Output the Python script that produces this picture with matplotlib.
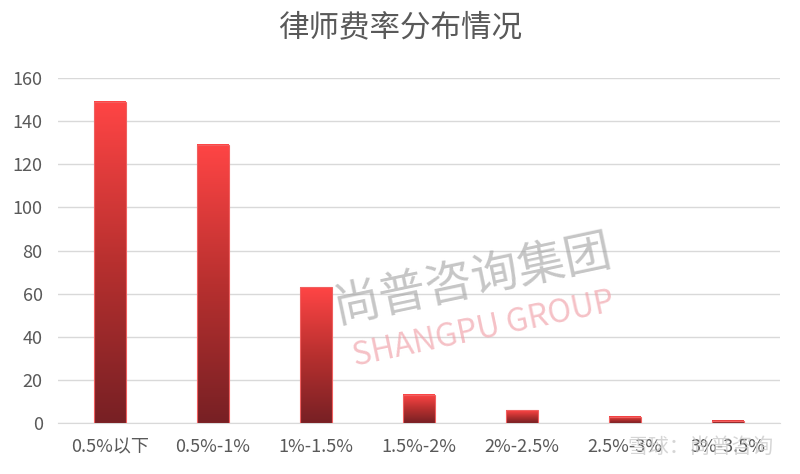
import numpy as np
import matplotlib.pyplot as plt
from matplotlib.colors import LinearSegmentedColormap

plt.rcParams['font.family'] = ['Noto Sans CJK SC', 'DejaVu Sans']

categories = ["0.5%以下", "0.5%-1%", "1%-1.5%", "1.5%-2%", "2%-2.5%", "2.5%-3%", "3%-3.5%"]
counts = [149, 129, 63, 13, 6, 3, 1]

# bar gradient: dark red at bottom, bright red on top
grad = LinearSegmentedColormap.from_list("bar", ["#772024", "#b8302f", "#ff4545"])

fig = plt.figure(figsize=(8, 4.74), dpi=100)
ax = fig.add_axes([0.0725, 0.1076, 0.9025, 0.7278])

width = 0.31
x = np.arange(len(categories))
g = np.linspace(0, 1, 256).reshape(-1, 1)
for xi, v in zip(x, counts):
    ax.imshow(g, extent=[xi - width / 2, xi + width / 2, 0, v], origin="lower",
              aspect="auto", cmap=grad, zorder=3)
    ax.bar(xi, v, width=width, fill=False, edgecolor="#f06060", linewidth=0.8, zorder=4)

ax.set_xlim(-0.5, len(categories) - 0.5)
ax.set_ylim(0, 160)
ax.set_yticks(range(0, 161, 20))
ax.set_xticks(x)
ax.set_xticklabels(categories)
ax.yaxis.grid(True, color="#d9d9d9", linewidth=1)
ax.set_axisbelow(True)
for s in ["top", "right", "left"]:
    ax.spines[s].set_visible(False)
ax.spines["bottom"].set_color("#d9d9d9")
ax.tick_params(axis="both", length=0, labelsize=13, colors="#595959")
ax.tick_params(axis="x", pad=11)
ax.tick_params(axis="y", pad=11)

fig.text(0.5, 0.942, "律师费率分布情况", ha="center", va="center", fontsize=22,
         color="#595959", fontweight="medium")

# watermarks
fig.text(0.59, 0.41, "尚普咨询集团", ha="center", va="center", fontsize=34, rotation=12,
         color="#a0a0a0", alpha=0.6, zorder=10)
fig.text(0.604, 0.305, "SHANGPU GROUP", ha="center", va="center", fontsize=23, rotation=12,
         color="#f0a0a8", alpha=0.65, zorder=10)
fig.text(0.875, 0.058, "雪球：尚普咨询", ha="center", va="center", fontsize=15,
         color="#c8c8c8", alpha=0.75, zorder=10)

fig.savefig("out.png", dpi=100)
